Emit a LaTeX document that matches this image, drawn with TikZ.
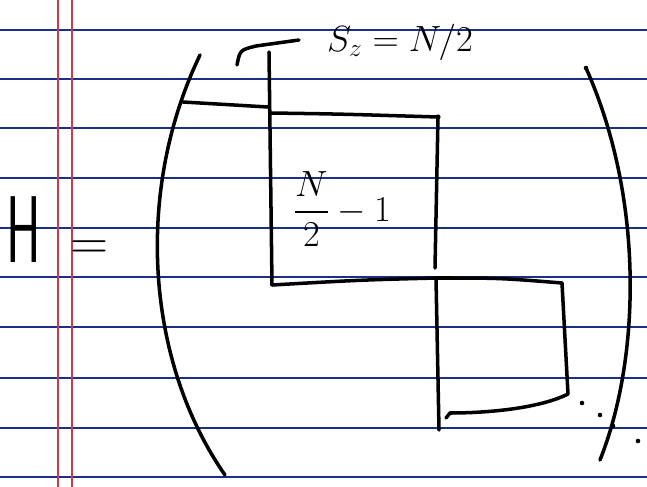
\documentclass[tikz,border=0pt]{standalone}
\usepackage{amsmath}
\usetikzlibrary{positioning}
\definecolor{ruleblue}{HTML}{1A2F8A}
\definecolor{marginred}{HTML}{D8354A}
\tikzset{
    ruling/.style={ruleblue, line width=1.1pt},
    margin/.style={marginred, line width=0.9pt},
    ink/.style={black, line width=2pt, line cap=round, line join=round},
    inkdot/.style={black, fill=black},
    handtext/.style={inner sep=0pt, font=\huge}
}

\begin{document}
\begin{tikzpicture}[x=0.02cm, y=-0.02cm]
    \useasboundingbox (0,0) rectangle (647,487);
    \fill[white] (0,0) rectangle (647,487);

    % notebook paper
    \foreach \y in {30,79,128,178,228,277,327,378,428,477}
        \draw[ruling] (0,\y) -- (647,\y);
    \draw[margin] (58,0) -- (58,487);
    \draw[margin] (72,0) -- (72,487);

    \node[inner sep=0pt, xscale=0.55, font=\sffamily\fontsize{54}{54}\selectfont] (ham) at (24,230) {H};
    \node[inner sep=0pt, font=\fontsize{30}{30}\selectfont] (eq) at (89,250) {=};

    % block corners
    \coordinate (ta) at (270,113);
    \coordinate (tb) at (438,117);
    \coordinate (tc) at (436,278);
    \coordinate (td) at (272,285);
    \coordinate (ub) at (562,283);
    \coordinate (uc) at (568,394);

    % parentheses
    \draw[ink] (200,55) .. controls (135,190) and (145,360) .. (225,475);
    \draw[ink] (586,68) .. controls (645,200) and (640,360) .. (600,460);

    % first block and the hook over it
    \draw[ink] (237,65) .. controls (240,50) .. (256,46) -- (299,40);
    \draw[ink] (269,52) -- (td);
    \draw[ink] (183,102) -- (268,107);
    \draw[ink] (ta) .. controls (340,114) .. (tb);
    \draw[ink] (tb) -- (435,268);
    \draw[ink] (td) .. controls (360,280) .. (tc) .. controls (500,278) .. (ub);
    \fill[inkdot] (tb) circle (2.6);

    % second block
    \draw[ink] (tc) -- (439,430);
    \draw[ink] (ub) -- (uc) .. controls (540,408) and (490,413) .. (450,413) -- (446,418);

    % dots
    \foreach \p in {(582,403),(600,415),(613,426),(638,441),(586,68)}
        \fill[inkdot] \p circle (2.3);

    \node[handtext] (sz) at (400,42) {$S_z = N/2$};
    \node[handtext] (blk) at (342,209) {$\dfrac{N}{2}-1$};
\end{tikzpicture}
\end{document}
